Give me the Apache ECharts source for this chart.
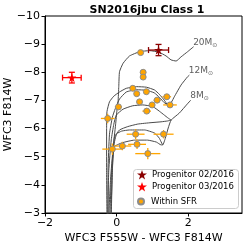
<!DOCTYPE html>
<html><head><meta charset="utf-8">
<script src="https://cdn.jsdelivr.net/npm/echarts@6/dist/echarts.min.js"></script>
<style>html,body{margin:0;padding:0;background:#fff}#c{width:246px;height:246px}</style>
</head><body><div id="c"></div>
<script>
// ---- data ----
const titleText = 'SN2016jbu Class 1';
const xName = 'WFC3 F555W - WFC3 F814W';
const yName = 'WFC3 F814W';
const seriesNames = ['Progenitor 02/2016', 'Progenitor 03/2016', 'Within SFR'];

const prog02X = [1.17], prog02Y = [-8.79], prog02XErr = [0.28], prog02YErr = [0.20];
const prog03X = [-1.25], prog03Y = [-7.81], prog03XErr = [0.26], prog03YErr = [0.19];

const sfrX = [0.67, 0.74, 0.74, 0.45, 0.56, 0.83, 0.64, 1.13, 1.40, 1.49, 0.99, 0.05, -0.25, 0.84, 0.53, 1.31, 0.57, 0.16, -0.12, 0.87];
const sfrY = [-8.70, -8.00, -7.83, -7.43, -7.24, -7.31, -6.95, -7.01, -7.13, -6.84, -6.84, -6.77, -6.36, -6.62, -5.80, -5.80, -5.44, -5.38, -5.27, -5.11];
const sfrXErr = [0.02, 0.04, 0.04, 0.08, 0.05, 0.05, 0.08, 0.10, 0.12, 0.19, 0.08, 0.10, 0.19, 0.12, 0.25, 0.28, 0.25, 0.25, 0.28, 0.35];
const sfrYErr = [0.02, 0.08, 0.08, 0.05, 0.05, 0.05, 0.05, 0.05, 0.10, 0.08, 0.05, 0.07, 0.17, 0.07, 0.18, 0.15, 0.17, 0.15, 0.20, 0.20];

const track20 = [[-0.22,-2.9],[-0.17,-4.2],[-0.10,-5.3],[-0.03,-6.13],[0.01,-6.66],[0.04,-6.95],[0.06,-7.5],[0.08,-8.02],[0.18,-8.32],[0.36,-8.58],[0.64,-8.73],[0.92,-8.77],[1.19,-8.71],[1.38,-8.58],[1.52,-8.44],[1.66,-8.40],[1.80,-8.55],[1.98,-8.73],[2.15,-8.91]];
const track12a = [[-0.27,-2.9],[-0.28,-4.5],[-0.28,-6.0],[-0.27,-6.6],[-0.20,-6.95],[-0.08,-7.15],[0.08,-7.30],[0.27,-7.43],[0.55,-7.49],[0.83,-7.47],[1.06,-7.37],[1.19,-7.22],[1.33,-7.01],[1.43,-6.84],[1.53,-6.94],[1.61,-7.13],[1.80,-7.55],[1.98,-7.84],[2.03,-7.90]];
const track12b = [[-0.24,-2.9],[-0.24,-4.5],[-0.20,-5.8],[-0.12,-6.4],[-0.04,-6.7],[0.08,-7.05],[0.27,-7.30],[0.55,-7.38],[0.83,-7.36],[1.05,-7.27],[1.20,-7.10],[1.33,-6.92],[1.43,-6.84]];
const track10 = [[-0.25,-2.9],[-0.22,-4.5],[-0.15,-5.6],[-0.08,-6.15],[-0.01,-6.48],[0.18,-6.69],[0.45,-6.81],[0.73,-6.84],[1.01,-6.78],[1.19,-6.62],[1.33,-6.48],[1.43,-6.38],[1.52,-6.30]];
const track8a = [[-0.19,-2.9],[-0.14,-4.5],[-0.08,-5.4],[0.00,-5.81],[0.14,-5.91],[0.36,-5.95],[0.78,-5.95],[1.06,-5.84],[1.19,-5.66],[1.29,-5.42],[1.36,-5.66],[1.44,-6.02],[1.52,-6.30],[1.75,-6.55],[1.97,-6.87],[2.07,-7.01]];
const track8b = [[-0.16,-2.9],[-0.12,-4.5],[-0.08,-5.4],[-0.06,-5.70],[0.08,-5.95],[0.31,-6.07],[0.59,-6.16],[0.96,-6.21],[1.24,-6.24],[1.42,-6.27],[1.52,-6.30]];
const track8c = [[-0.15,-2.9],[-0.12,-4.5],[-0.08,-5.34],[0.14,-5.49],[0.50,-5.59],[0.86,-5.59],[1.11,-5.52],[1.24,-5.42],[1.29,-5.42]];
const trackLabels = [['20', track20], ['12', track12a], ['8', track8a]];

// ---- chart ----
const FONT = 'DejaVu Sans';
const fmt = v => (v < 0 ? '\u2212' : '') + Math.abs(v);
const star = 'path://M50,0 L61.2,34.5 L97.6,34.5 L68.2,55.9 L79.4,90.5 L50,69.1 L20.6,90.5 L31.8,55.9 L2.4,34.5 L38.8,34.5 Z';

function errSeries(id, xs, ys, exs, eys, color, cap, width, z) {
  return {
    type: 'custom', id: id, name: id, silent: true, z: z,
    data: xs.map((x, i) => [x, ys[i], exs[i], eys[i]]),
    encode: {x: 0, y: 1},
    renderItem: function (params, api) {
      const x = api.value(0), y = api.value(1), ex = api.value(2), ey = api.value(3);
      const l = api.coord([x - ex, y]), r = api.coord([x + ex, y]);
      const t = api.coord([x, y - ey]), b = api.coord([x, y + ey]);
      const style = {stroke: color, lineWidth: width};
      const ch = [
        {type: 'line', shape: {x1: l[0], y1: l[1], x2: r[0], y2: r[1]}, style: style},
        {type: 'line', shape: {x1: t[0], y1: t[1], x2: b[0], y2: b[1]}, style: style}
      ];
      if (cap) {
        ch.push({type: 'line', shape: {x1: l[0], y1: l[1] - cap, x2: l[0], y2: l[1] + cap}, style: style});
        ch.push({type: 'line', shape: {x1: r[0], y1: r[1] - cap, x2: r[0], y2: r[1] + cap}, style: style});
        ch.push({type: 'line', shape: {x1: t[0] - cap, y1: t[1], x2: t[0] + cap, y2: t[1]}, style: style});
        ch.push({type: 'line', shape: {x1: b[0] - cap, y1: b[1], x2: b[0] + cap, y2: b[1]}, style: style});
      }
      return {type: 'group', children: ch};
    }
  };
}

function trackSeries(id, pts) {
  return {type: 'line', id: id, name: id, data: pts, showSymbol: false, silent: true, z: 1,
    lineStyle: {color: '#4a4a4a', width: 1}, smooth: 0.15, animation: false};
}

const series = [
  trackSeries('t20', track20), trackSeries('t12a', track12a), trackSeries('t12b', track12b),
  trackSeries('t10', track10), trackSeries('t8a', track8a), trackSeries('t8b', track8b), trackSeries('t8c', track8c),
  {
    type: 'scatter', id: 'tlabels', silent: true, z: 3, symbolSize: 1, itemStyle: {color: 'rgba(0,0,0,0)'},
    data: trackLabels.map(d => ({value: d[1][d[1].length - 1], name: d[0]})),
    label: {show: true, position: [0, -9], align: 'left', formatter: p => '{m|' + p.name + 'M}{s|\u2299}',
      rich: {m: {fontFamily: FONT, fontSize: 9, color: '#333'}, s: {fontFamily: FONT, fontSize: 6, color: '#333', padding: [5, 0, 0, 0]}}}
  },
  errSeries('e_sfr', sfrX, sfrY, sfrXErr, sfrYErr, '#ffa500', 0, 1.3, 4),
  {type: 'scatter', name: seriesNames[2], data: sfrX.map((x, i) => [x, sfrY[i]]), z: 5, symbol: 'circle', symbolSize: 6,
    itemStyle: {color: '#ffa500', borderColor: '#8c8c8c', borderWidth: 1, opacity: 1}},
  errSeries('e_p02', prog02X, prog02Y, prog02XErr, prog02YErr, '#8b0000', 3, 1.3, 6),
  {type: 'scatter', name: seriesNames[0], data: prog02X.map((x, i) => [x, prog02Y[i]]), z: 7, symbol: star, symbolSize: 9,
    itemStyle: {color: '#8b0000', opacity: 1}},
  errSeries('e_p03', prog03X, prog03Y, prog03XErr, prog03YErr, '#ff0000', 3, 1.3, 6),
  {type: 'scatter', name: seriesNames[1], data: prog03X.map((x, i) => [x, prog03Y[i]]), z: 7, symbol: star, symbolSize: 9,
    itemStyle: {color: '#ff0000', opacity: 1}}
];

const legendBase = {orient: 'vertical', left: 137, padding: 0, itemGap: 0, selectedMode: false, z: 20,
  textStyle: {fontFamily: FONT, fontSize: 8.5, color: '#000'}};

const option = {
  animation: false,
  backgroundColor: '#fff',
  title: {text: titleText, left: 142, top: 0, textAlign: 'center',
    textStyle: {fontFamily: FONT, fontSize: 11, fontWeight: 'bold', color: '#000'}},
  grid: {left: 45, right: 4, top: 16, bottom: 33, show: true, borderColor: '#000', borderWidth: 1, backgroundColor: 'transparent',
    containLabel: false, outerBoundsMode: 'none'},
  xAxis: {type: 'value', min: -2, max: 3.5, interval: 2, name: xName, nameLocation: 'middle', nameGap: 20, nameMoveOverlap: false,
    nameTextStyle: {fontFamily: FONT, fontSize: 11, color: '#000'},
    axisLine: {show: true, onZero: false, lineStyle: {color: '#000', width: 1}},
    axisTick: {show: true, length: 3.5, lineStyle: {color: '#000'}},
    axisLabel: {fontFamily: FONT, fontSize: 11, color: '#000', margin: 5, formatter: fmt, showMaxLabel: false},
    splitLine: {show: false}},
  yAxis: {type: 'value', min: -10, max: -3, interval: 1, inverse: true, name: yName, nameLocation: 'middle', nameGap: 31, nameRotate: 90,
    nameMoveOverlap: false,
    nameTextStyle: {fontFamily: FONT, fontSize: 11, color: '#000'},
    axisLine: {show: true, onZero: false, lineStyle: {color: '#000', width: 1}},
    axisTick: {show: true, length: 3.5, lineStyle: {color: '#000'}},
    axisLabel: {fontFamily: FONT, fontSize: 11, color: '#000', margin: 5, formatter: fmt},
    splitLine: {show: false}},
  graphic: [{type: 'rect', left: 133, top: 169, z: 15, shape: {width: 105, height: 39, r: 3},
    style: {fill: 'rgba(255,255,255,0.85)', stroke: '#cccccc', lineWidth: 1}}],
  legend: [
    Object.assign({}, legendBase, {top: 170, itemWidth: 10, itemHeight: 10, data: [{name: seriesNames[0], icon: star}]}),
    Object.assign({}, legendBase, {top: 182, itemWidth: 10, itemHeight: 10, data: [{name: seriesNames[1], icon: star}]}),
    Object.assign({}, legendBase, {top: 197, itemWidth: 10, itemHeight: 6, data: [{name: seriesNames[2], icon: 'circle'}]})
  ],
  series: series
};

const chart = echarts.init(document.getElementById('c'), null, {renderer: 'canvas'});
chart.setOption(option);
</script>
</body></html>
